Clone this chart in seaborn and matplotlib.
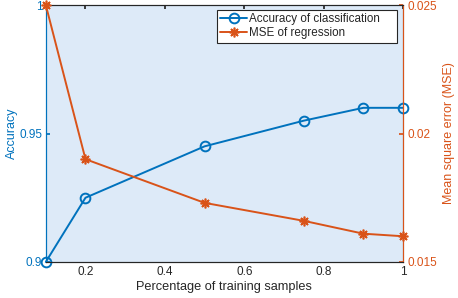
import numpy as np
import pandas as pd
import matplotlib
matplotlib.use('Agg')
import matplotlib.pyplot as plt
import seaborn as sns

# Data
train_pct = [0.1, 0.2, 0.5, 0.75, 0.9, 1.0]
accuracy = [0.900, 0.925, 0.945, 0.955, 0.960, 0.960]
mse = [0.0250, 0.0190, 0.0173, 0.0166, 0.0161, 0.0160]

blue = '#0072BD'
orange = '#D95319'

sns.set_theme(style='white')
plt.rcParams['font.family'] = ['Liberation Sans', 'DejaVu Sans']

df = pd.DataFrame({'pct': train_pct, 'acc': accuracy, 'mse': mse})

fig = plt.figure(figsize=(4.58, 2.98), dpi=100)
ax = fig.add_axes([0.1, 0.121, 0.78, 0.862])
ax2 = ax.twinx()

sns.lineplot(data=df, x='pct', y='acc', ax=ax, color=blue, marker='o',
             markersize=7, markerfacecolor='none', markeredgecolor=blue,
             markeredgewidth=1.4, linewidth=1.4, label='Accuracy of classification',
             legend=False, clip_on=False, zorder=3)
sns.lineplot(data=df, x='pct', y='mse', ax=ax2, color=orange, marker=(8, 2, 0),
             markersize=7, markeredgecolor=orange, markeredgewidth=1.2,
             linewidth=1.4, label='MSE of regression', legend=False,
             clip_on=False, zorder=3)

ax.set_facecolor('#DDEAF8')
ax.set_xlim(0.1, 1)
ax.set_ylim(0.9, 1)
ax2.set_ylim(0.015, 0.025)
ax.set_xticks([0.2, 0.4, 0.6, 0.8, 1])
ax.set_xticklabels(['0.2', '0.4', '0.6', '0.8', '1'])
ax.set_yticks([0.9, 0.95, 1])
ax.set_yticklabels(['0.9', '0.95', '1'])
ax2.set_yticks([0.015, 0.02, 0.025])
ax2.set_yticklabels(['0.015', '0.02', '0.025'])

ax.set_xlabel('Percentage of training samples', fontsize=9.2, color='#262626', labelpad=2)
ax.set_ylabel('Accuracy', fontsize=9, color=blue, labelpad=1)
ax2.set_ylabel('Mean square error (MSE)', fontsize=9, color=orange, labelpad=4)

ax.tick_params(axis='x', direction='in', length=3, labelsize=8.5, colors='#262626',
               top=True, pad=3)
ax.tick_params(axis='y', direction='in', length=3, labelsize=8.5, colors=blue, pad=2.5)
ax2.tick_params(axis='y', direction='in', length=3, labelsize=8.5, colors=orange, pad=3)

for a in (ax, ax2):
    for s in a.spines.values():
        s.set_linewidth(0.8)
        s.set_color('#262626')
ax2.spines['left'].set_color(blue)
ax2.spines['right'].set_color(orange)
ax.spines['left'].set_color(blue)

h1, l1 = ax.get_legend_handles_labels()
h2, l2 = ax2.get_legend_handles_labels()
leg = ax2.legend(h1 + h2, l1 + l2, loc='upper left',
                 bbox_to_anchor=(0.479, 0.5, 0.504, 0.481), mode='expand',
                 fontsize=8.4, frameon=True, fancybox=False, edgecolor='#262626',
                 borderaxespad=0, handlelength=2.3, handletextpad=0.15,
                 borderpad=0.3, labelspacing=0.15)
leg.get_frame().set_linewidth(0.8)
leg.get_frame().set_alpha(1)

fig.savefig('out.png', dpi=100)
